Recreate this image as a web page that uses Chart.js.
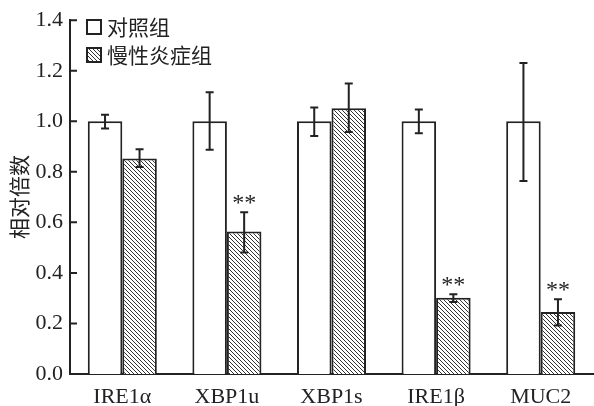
<!DOCTYPE html>
<html>
<head>
<meta charset="utf-8">
<script src="https://cdn.jsdelivr.net/npm/chart.js@4"></script>
<style>
  html, body { margin: 0; padding: 0; background: #fff; }
  #wrap { width: 594px; height: 406px; }
</style>
</head>
<body>
<div id="wrap"><canvas id="c" width="594" height="406"></canvas></div>
<script>
// Relative expression of ER-stress genes: control vs chronic inflammation
const categories = ['IRE1α', 'XBP1u', 'XBP1s', 'IRE1β', 'MUC2'];
const seriesNames = ['对照组', '慢性炎症组'];
const controlValues = [1.0, 1.0, 1.0, 1.0, 1.0];
const controlHigh = [1.026, 1.115, 1.055, 1.047, 1.231];
const controlLow = [0.971, 0.887, 0.942, 0.953, 0.764];
const chronicValues = [0.853, 0.564, 1.052, 0.302, 0.245];
const chronicHigh = [0.889, 0.640, 1.150, 0.316, 0.296];
const chronicLow = [0.819, 0.481, 0.958, 0.285, 0.192];
const significance = ['', '**', '', '**', '**'];
const yTickValues = [0, 0.2, 0.4, 0.6, 0.8, 1.0, 1.2, 1.4];
const yTitle = '相对倍数';

const INK = '#222';
const SERIF = '"Liberation Serif", "DejaVu Serif", serif';
const CJK = '"Noto Sans CJK SC", "Noto Sans", sans-serif';

// diagonal hatch fill (top-left to bottom-right)
function makeHatch() {
  const s = 4;
  const pc = document.createElement('canvas');
  pc.width = s; pc.height = s;
  const g = pc.getContext('2d');
  g.fillStyle = '#fff';
  g.fillRect(0, 0, s, s);
  g.strokeStyle = '#333';
  g.lineWidth = 1;
  g.beginPath();
  g.moveTo(-1, -1); g.lineTo(s + 1, s + 1);
  g.moveTo(-1, s - 1); g.lineTo(1, s + 1);
  g.moveTo(s - 1, -1); g.lineTo(s + 1, 1);
  g.stroke();
  return g.createPattern(pc, 'repeat');
}
const hatch = makeHatch();

const errorBars = {
  id: 'errorBars',
  afterDatasetsDraw(chart) {
    const ctx = chart.ctx;
    const y = chart.scales.y;
    const ranges = [[controlHigh, controlLow], [chronicHigh, chronicLow]];
    ctx.save();
    ctx.strokeStyle = INK;
    ctx.lineWidth = 2;
    ranges.forEach((r, di) => {
      const meta = chart.getDatasetMeta(di);
      meta.data.forEach((bar, i) => {
        const x = bar.x;
        const yh = y.getPixelForValue(r[0][i]);
        const yl = y.getPixelForValue(r[1][i]);
        ctx.beginPath();
        ctx.moveTo(x, yh); ctx.lineTo(x, yl);
        ctx.moveTo(x - 4, yh); ctx.lineTo(x + 4, yh);
        ctx.moveTo(x - 4, yl); ctx.lineTo(x + 4, yl);
        ctx.stroke();
      });
    });
    // significance marks over the inflammation bars
    const meta = chart.getDatasetMeta(1);
    ctx.fillStyle = INK;
    ctx.font = '24px ' + SERIF;
    ctx.textAlign = 'center';
    ctx.textBaseline = 'alphabetic';
    meta.data.forEach((bar, i) => {
      if (!significance[i]) return;
      const yh = y.getPixelForValue(chronicHigh[i]);
      ctx.fillText(significance[i], bar.x, yh - 2);
    });
    ctx.restore();
  }
};

const axisDecor = {
  id: 'axisDecor',
  afterDraw(chart) {
    const ctx = chart.ctx;
    const y = chart.scales.y;
    const left = chart.chartArea.left;
    ctx.save();
    // inward tick marks on the value axis
    ctx.strokeStyle = INK;
    ctx.lineWidth = 2;
    ctx.beginPath();
    yTickValues.forEach(v => {
      const py = y.getPixelForValue(v);
      ctx.moveTo(left, py); ctx.lineTo(left + 7, py);
    });
    ctx.stroke();
    // legend
    const items = [{ fill: '#fff', label: seriesNames[0], top: 20 },
                   { fill: hatch, label: seriesNames[1], top: 48 }];
    ctx.font = '21px ' + CJK;
    ctx.textBaseline = 'middle';
    ctx.textAlign = 'left';
    items.forEach(it => {
      ctx.fillStyle = it.fill;
      ctx.fillRect(87, it.top, 14, 14);
      ctx.lineWidth = 2;
      ctx.strokeStyle = INK;
      ctx.strokeRect(87, it.top, 14, 14);
      ctx.fillStyle = INK;
      ctx.fillText(it.label, 107, it.top + 7);
    });
    ctx.restore();
  }
};

new Chart(document.getElementById('c'), {
  type: 'bar',
  data: {
    labels: categories,
    datasets: [
      { label: seriesNames[0], data: controlValues, backgroundColor: '#fff',
        borderColor: INK, borderWidth: 2 },
      { label: seriesNames[1], data: chronicValues, backgroundColor: hatch,
        borderColor: INK, borderWidth: 2 }
    ]
  },
  options: {
    responsive: false,
    animation: false,
    devicePixelRatio: 1,
    layout: { padding: { top: 12, right: 1, left: 0, bottom: 0 } },
    datasets: { bar: { categoryPercentage: 0.66, barPercentage: 1.0, borderSkipped: 'bottom' } },
    plugins: { legend: { display: false }, tooltip: { enabled: false } },
    scales: {
      x: {
        afterFit(scale) { scale.height = 32; },
        grid: { display: false, drawTicks: false },
        border: { display: true, color: INK, width: 2 },
        ticks: { color: INK, font: { family: SERIF, size: 22, lineHeight: 1.2 }, padding: 10 }
      },
      y: {
        min: 0, max: 1.4,
        afterBuildTicks(scale) { scale.ticks = yTickValues.map(v => ({ value: v })); },
        afterFit(scale) { scale.width = 70; },
        grid: { display: false, drawTicks: false },
        border: { display: true, color: INK, width: 2 },
        ticks: { color: INK, font: { family: SERIF, size: 22 }, padding: 7,
                 callback: v => Number(v).toFixed(1) },
        title: { display: true, text: yTitle, color: INK,
                 font: { family: CJK, size: 21 }, padding: { top: 6, bottom: 0 } }
      }
    }
  },
  plugins: [errorBars, axisDecor]
});
</script>
</body>
</html>
